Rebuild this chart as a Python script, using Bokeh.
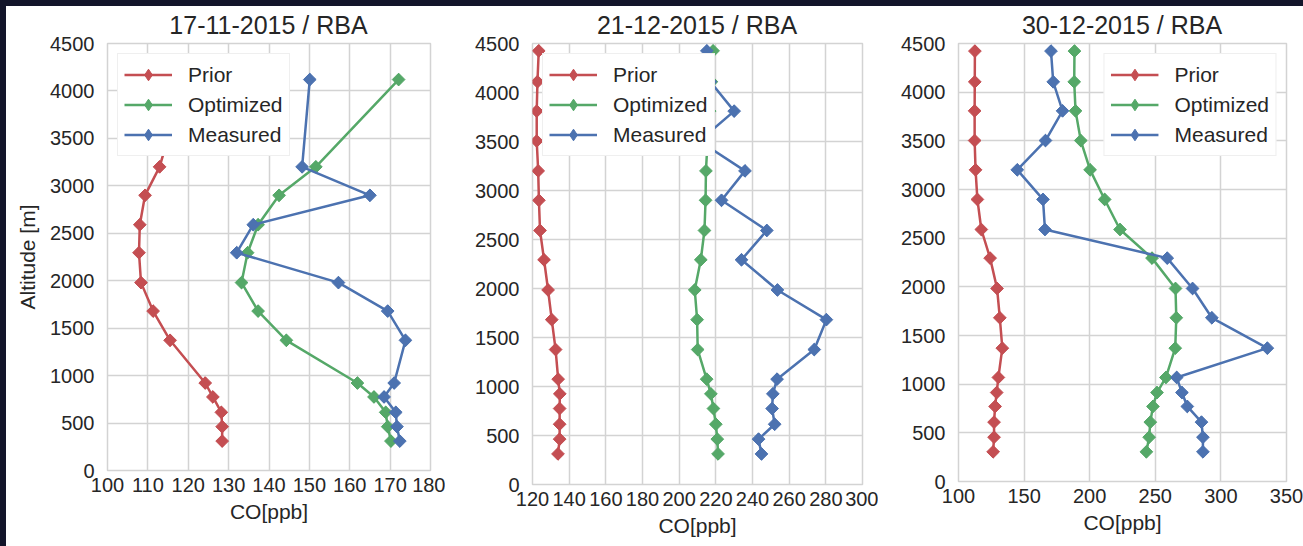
import numpy as np
from bokeh.plotting import figure
from bokeh.models import Legend, LegendItem, FixedTicker, Range1d, Div
from bokeh.layouts import row, column
from bokeh.embed import file_html
from bokeh.resources import INLINE

# ---------------- data ----------------
series_names = ["Prior", "Optimized", "Measured"]
y_ticks = [0, 500, 1000, 1500, 2000, 2500, 3000, 3500, 4000, 4500]

# Panel 1: 17-11-2015 / RBA
title_1 = "17-11-2015 / RBA"
x_ticks_1 = [100, 110, 120, 130, 140, 150, 160, 170, 180]
alt_prior_1 = [4110, 3810, 3505, 3200, 2900, 2590, 2295, 1980, 1680, 1372, 922, 775, 613, 462, 310]
prior_1 = [118.0, 117.0, 115.0, 112.9, 109.3, 108.0, 107.8, 108.3, 111.3, 115.5, 124.2, 126.1, 128.2, 128.4, 128.4]
alt_obs_1 = [4120, 3200, 2900, 2590, 2295, 1980, 1680, 1372, 922, 775, 613, 462, 310]
opt_1 = [172.1, 151.6, 142.5, 137.3, 134.7, 133.2, 137.3, 144.3, 161.9, 166.0, 168.9, 169.4, 170.2]
meas_1 = [150.1, 148.2, 165.0, 136.1, 132.0, 157.2, 169.4, 173.8, 171.0, 168.5, 171.4, 171.7, 172.4]

# Panel 2: 21-12-2015 / RBA
title_2 = "21-12-2015 / RBA"
x_ticks_2 = [120, 140, 160, 180, 200, 220, 240, 260, 280, 300]
alt_2 = [4425, 4110, 3810, 3505, 3200, 2900, 2592, 2293, 1985, 1682, 1377, 1075, 925, 775, 615, 463, 312]
prior_2 = [123.4, 122.7, 122.3, 122.3, 123.1, 123.5, 124.1, 126.3, 128.5, 130.5, 132.6, 134.0, 134.9, 134.8, 134.8, 134.8, 133.9]
opt_2 = [218.5, 217.6, 216.6, 215.5, 214.6, 214.4, 213.8, 211.8, 208.5, 209.8, 210.1, 215.0, 217.3, 218.7, 220.0, 220.8, 221.2]
meas_2 = [215.1, 217.0, 230.0, 211.0, 235.9, 223.1, 247.8, 234.0, 253.6, 280.3, 273.7, 253.4, 251.1, 250.7, 252.1, 243.3, 244.9]

# Panel 3: 30-12-2015 / RBA
title_3 = "30-12-2015 / RBA"
x_ticks_3 = [100, 150, 200, 250, 300, 350]
alt_3 = [4422, 4106, 3808, 3503, 3202, 2898, 2589, 2295, 1983, 1682, 1370, 1069, 914, 771, 610, 455, 305]
prior_3 = [112.5, 112.4, 112.3, 112.3, 113.0, 114.4, 117.4, 124.1, 129.4, 131.5, 133.4, 130.4, 129.1, 127.9, 127.1, 127.1, 126.4]
opt_3 = [188.4, 188.2, 189.2, 193.2, 200.3, 211.4, 223.1, 247.5, 265.4, 266.0, 265.2, 258.1, 251.3, 248.2, 246.2, 245.3, 243.2]
meas_3 = [170.5, 172.2, 179.3, 166.3, 144.8, 164.4, 165.9, 259.1, 278.4, 293.1, 335.4, 266.3, 270.3, 274.4, 285.2, 286.3, 286.3]

# ---------------- style ----------------
FONT = "Liberation Sans"
TXT = "#262626"
GRID = "#d3d3d3"
DARK = "#13152a"
COLORS = {"Prior": "#C44E52", "Optimized": "#55A868", "Measured": "#4C72B0"}


def make_panel(x_ticks, curves, fw, fh, bl, bt, br, bb, loc, ylabel=None):
    p = figure(frame_width=fw, frame_height=fh,
               min_border_left=bl, min_border_top=bt,
               min_border_right=br, min_border_bottom=bb,
               x_range=Range1d(x_ticks[0], x_ticks[-1]),
               y_range=Range1d(y_ticks[0], y_ticks[-1]),
               output_backend="svg", toolbar_location=None,
               background_fill_color="white", border_fill_color="white")

    p.outline_line_color = GRID
    p.outline_line_width = 1.5
    p.xgrid.grid_line_color = GRID
    p.ygrid.grid_line_color = GRID
    p.xgrid.grid_line_width = 1.5
    p.ygrid.grid_line_width = 1.5

    p.xaxis.ticker = FixedTicker(ticks=x_ticks)
    p.yaxis.ticker = FixedTicker(ticks=y_ticks)
    for ax in (p.xaxis[0], p.yaxis[0]):
        ax.axis_line_color = None
        ax.major_tick_line_color = None
        ax.minor_tick_line_color = None
        ax.major_tick_out = 0
        ax.major_tick_in = 0
        ax.major_label_text_font = FONT
        ax.major_label_text_font_size = "20px"
        ax.major_label_text_color = TXT
        ax.axis_label_text_font = FONT
        ax.axis_label_text_font_size = "21px"
        ax.axis_label_text_font_style = "normal"
        ax.axis_label_text_color = TXT
    p.xaxis.major_label_standoff = 7
    p.yaxis.major_label_standoff = 13
    p.xaxis.axis_label = "CO[ppb]"
    p.xaxis.axis_label_standoff = 5
    if ylabel:
        p.yaxis.axis_label = ylabel
        p.yaxis.axis_label_standoff = 8

    items = []
    for name, xs, ys in curves:
        c = COLORS[name]
        ln = p.line(xs, ys, line_color=c, line_width=2.5, line_join="round")
        # narrow diamonds (hidden beneath the markers) give the legend its swatch
        lg = p.scatter(xs, ys, marker="diamond", size=12,
                       fill_color=c, line_color=c, line_width=1)
        p.scatter(xs, ys, marker="square", angle=np.pi / 4, size=9,
                  fill_color=c, line_color=c, line_width=1)
        items.append(LegendItem(label=name, renderers=[ln, lg]))

    leg = Legend(items=items, location=loc, margin=10,
                 label_text_font=FONT, label_text_font_size="21px",
                 label_text_color=TXT, glyph_width=48, glyph_height=29,
                 label_height=29, label_standoff=16,
                 padding=6, spacing=1,
                 border_line_color="#e0e0e0", border_line_width=1,
                 background_fill_color="white", background_fill_alpha=1.0)
    p.add_layout(leg)
    return p


p1 = make_panel(x_ticks_1,
                [("Prior", prior_1, alt_prior_1),
                 ("Optimized", opt_1, alt_obs_1),
                 ("Measured", meas_1, alt_obs_1)],
                fw=323, fh=427, bl=101, bt=8, br=15, bb=76,
                loc="top_left", ylabel="Altitude [m]")
p2 = make_panel(x_ticks_2,
                [("Prior", prior_2, alt_2),
                 ("Optimized", opt_2, alt_2),
                 ("Measured", meas_2, alt_2)],
                fw=330, fh=441, bl=87, bt=8, br=16, bb=62,
                loc="top_left")
p3 = make_panel(x_ticks_3,
                [("Prior", prior_3, alt_3),
                 ("Optimized", opt_3, alt_3),
                 ("Measured", meas_3, alt_3)],
                fw=328, fh=438, bl=80, bt=8, br=17, bb=65,
                loc="top_right")

# panel titles, centred over each plot frame
title_centres = [262.5, 691, 1116]
span_css = ("position:absolute; top:7px; transform:translateX(-50%); white-space:nowrap; "
            "font-family:'Liberation Sans'; font-size:25px; line-height:25px; color:" + TXT + ";")
spans = ""
for cx, t in zip(title_centres, [title_1, title_2, title_3]):
    spans += '<span style="left:' + str(cx) + 'px; ' + span_css + '">' + t + '</span>'
title_html = '<div style="position:relative; width:1297px; height:29px;">' + spans + '</div>'
title_row = Div(text=title_html, width=1297, height=29, margin=0,
                styles={"background-color": "white"})

top_strip = Div(text="", width=1303, height=6, margin=0,
                styles={"background-color": DARK})
left_strip = Div(text="", width=6, height=540, margin=0,
                 styles={"background-color": DARK})
layout = column(top_strip,
                row(left_strip,
                    column(title_row, row(p1, p2, p3, spacing=0), spacing=0),
                    spacing=0),
                spacing=0)

open("out.html", "w").write(file_html(layout, INLINE))
